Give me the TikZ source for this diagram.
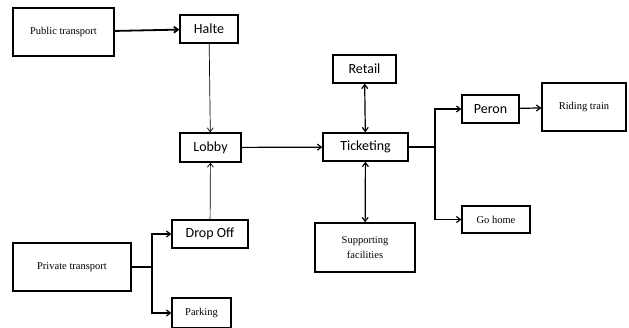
\documentclass[tikz,border=0pt]{standalone}
\usepackage{fontspec}
\setmainfont{Liberation Serif}
\newfontfamily\calibri{Carlito}
\usetikzlibrary{arrows.meta,positioning}

\begin{document}
\begin{tikzpicture}[x=1pt,y=-1pt,
  sansbox/.style={draw,line width=1.3pt,inner sep=0pt,font=\calibri\fontsize{14}{16}\selectfont},
  serifbox/.style={draw,line width=1.3pt,inner sep=0pt,align=center,font=\fontsize{10.5}{15}\selectfont},
  link/.style={-{Straight Barb[length=4pt,width=6pt]},line width=1.2pt},
  thinlink/.style={-{Straight Barb[length=4pt,width=6pt]},line width=0.7pt}]
\useasboundingbox (0,0) rectangle (629,327);

% Arrival side
\node[serifbox,minimum width=101pt,minimum height=48pt] (pub) at (63.5,32) {Public transport};
\node[sansbox,minimum width=58pt,minimum height=28pt] (halte) at (209,29) {Halte};
\node[serifbox,minimum width=118pt,minimum height=48pt] (priv) at (72,267) {Private transport};
\node[sansbox,minimum width=76pt,minimum height=28pt] (drop) at (210,234) {Drop Off};
\node[serifbox,minimum width=59pt,minimum height=30pt] (park) at (201.5,313) {Parking};

% Station core
\node[sansbox,minimum width=61pt,minimum height=29pt] (lobby) at (210.5,147.5) {Lobby};
\node[sansbox,minimum width=85pt,minimum height=28pt] (tick) at (365.5,147) {Ticketing};
\node[sansbox,minimum width=63pt,minimum height=28pt] (retail) at (364.5,69) {Retail};
\node[serifbox,minimum width=100pt,minimum height=49pt] (supp) at (365,247.5) {Supporting\\facilities};

% Departure side
\node[sansbox,minimum width=57pt,minimum height=28pt] (peron) at (490.5,109) {Peron};
\node[serifbox,minimum width=84pt,minimum height=48pt] (ride) at (584,107) {Riding train};
\node[serifbox,minimum width=68pt,minimum height=27pt] (gohome) at (496,219.5) {Go home};

% Branch points
\coordinate (privfork) at (152,267);
\coordinate (tickfork) at (435,147);

% Connections
\draw[link,line width=1.8pt] (pub) -- (halte);
\draw[thinlink] (halte) -- (lobby);
\draw[thinlink] (drop) -- (lobby);
\draw[link] (lobby) -- (tick);
\draw[link,{Straight Barb[length=4pt,width=6pt]}-{Straight Barb[length=4pt,width=6pt]}] (retail) -- (tick);
\draw[link,{Straight Barb[length=4pt,width=6pt]}-{Straight Barb[length=4pt,width=6pt]}] (tick) -- (supp);
\draw[line width=1.2pt] (priv) -- (privfork);
\draw[link] (privfork) |- (drop);
\draw[link] (privfork) |- (park);
\draw[line width=1.2pt] (tick) -- (tickfork);
\draw[link] (tickfork) |- (peron);
\draw[link] (tickfork) |- (gohome);
\draw[link] (peron) -- (ride);
\end{tikzpicture}
\end{document}
